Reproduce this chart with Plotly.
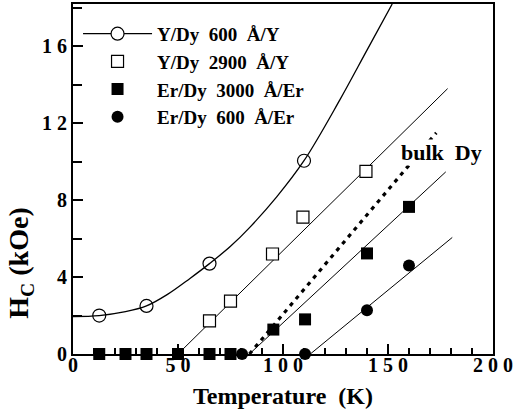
import plotly.graph_objects as go

# ---- data ----
# Y/Dy 600 Å/Y (open circles)
t_y600 = [12.5, 35, 65, 110]
h_y600 = [2.0, 2.5, 4.7, 10.05]
# fitted curve through Y/Dy 600
t_y600_fit = [0, 12.5, 25, 35, 45, 55.7, 65, 75, 84.3, 97, 110, 127, 140, 152]
h_y600_fit = [1.95, 2.0, 2.2, 2.5, 3.1, 3.93, 4.7, 5.6, 6.6, 8.17, 10.05, 13.2, 15.8, 18.2]

# Y/Dy 2900 Å/Y (open squares)
t_y2900 = [65, 75, 95, 109.5, 139.5]
h_y2900 = [1.72, 2.75, 5.2, 7.12, 9.5]
t_y2900_fit = [50, 178.4]
h_y2900_fit = [0, 13.8]

# Er/Dy 3000 Å/Er (filled squares)
t_er3000 = [12.5, 25, 35, 50, 65, 75, 95.4, 110.5, 140, 160]
h_er3000 = [0, 0, 0, 0, 0, 0, 1.27, 1.8, 5.23, 7.65]
t_er3000_fit = [84, 177.5]
h_er3000_fit = [0, 9.47]

# Er/Dy 600 Å/Er (filled circles)
t_er600 = [80.5, 110.5, 140, 160]
h_er600 = [0, 0, 2.27, 4.6]
t_er600_fit = [113, 180.6]
h_er600_fit = [0, 6.06]

# bulk Dy (dotted)
t_bulk = [84, 173]
h_bulk = [0, 11.5]

x_tickvals = [0, 50, 100, 150, 200]
x_ticktext = ["0", "5\u00a00", "1\u00a00\u00a00", "1\u00a05\u00a00", "2\u00a00\u00a00"]
y_tickvals = [0, 4, 8, 12, 16]
y_ticktext = ["0", "4", "8", "1\u00a02", "1\u00a06"]

names = ["Y/Dy\u00a0\u00a0600\u00a0\u00a0Å/Y",
         "Y/Dy\u00a0\u00a02900\u00a0\u00a0Å/Y",
         "Er/Dy\u00a0\u00a03000\u00a0\u00a0Å/Er",
         "Er/Dy\u00a0\u00a0600\u00a0\u00a0Å/Er"]

FONT = "Liberation Serif"
fig = go.Figure()

thin = dict(color="black", width=1)
# fit lines
fig.add_trace(go.Scatter(x=t_y600_fit, y=h_y600_fit, mode="lines", line=dict(color="black", width=1.3, shape="spline"),
                         showlegend=False, cliponaxis=False, hoverinfo="skip"))
fig.add_trace(go.Scatter(x=t_y2900_fit, y=h_y2900_fit, mode="lines", line=thin, showlegend=False, hoverinfo="skip"))
fig.add_trace(go.Scatter(x=t_er3000_fit, y=h_er3000_fit, mode="lines", line=thin, showlegend=False, hoverinfo="skip"))
fig.add_trace(go.Scatter(x=t_er600_fit, y=h_er600_fit, mode="lines", line=thin, showlegend=False, hoverinfo="skip"))
fig.add_trace(go.Scatter(x=t_bulk, y=h_bulk, mode="lines", line=dict(color="black", width=3.2, dash="4px,5px"),
                         showlegend=False, hoverinfo="skip"))

# data markers
fig.add_trace(go.Scatter(x=t_y600, y=h_y600, mode="markers", name=names[0], showlegend=False, cliponaxis=False,
                         marker=dict(symbol="circle-open", size=13, color="black", line=dict(width=1.2))))
fig.add_trace(go.Scatter(x=t_y2900, y=h_y2900, mode="markers", name=names[1], showlegend=False, cliponaxis=False,
                         marker=dict(symbol="square", size=12, color="white", line=dict(width=1.2, color="black"))))
fig.add_trace(go.Scatter(x=t_er3000, y=h_er3000, mode="markers", name=names[2], showlegend=False, cliponaxis=False,
                         marker=dict(symbol="square", size=12, color="black")))
fig.add_trace(go.Scatter(x=t_er600, y=h_er600, mode="markers", name=names[3], showlegend=False, cliponaxis=False,
                         marker=dict(symbol="circle", size=12, color="black")))

# legend entries
fig.add_trace(go.Scatter(x=[None], y=[None], mode="lines+markers", name=names[0],
                         line=dict(color="black", width=1.2),
                         marker=dict(symbol="circle", size=13, color="white", line=dict(width=1.2, color="black"))))
fig.add_trace(go.Scatter(x=[None], y=[None], mode="markers", name=names[1],
                         marker=dict(symbol="square", size=12, color="white", line=dict(width=1.2, color="black"))))
fig.add_trace(go.Scatter(x=[None], y=[None], mode="markers", name=names[2],
                         marker=dict(symbol="square", size=12, color="black")))
fig.add_trace(go.Scatter(x=[None], y=[None], mode="markers", name=names[3],
                         marker=dict(symbol="circle", size=12, color="black")))

axis_common = dict(showline=True, linecolor="black", linewidth=2, mirror=True, ticks="inside",
                   tickcolor="black", tickwidth=2, showgrid=False, zeroline=False, automargin=False,
                   tickfont=dict(family=FONT, size=20, color="black", weight="bold"))

fig.update_xaxes(range=[0, 200], tickvals=x_tickvals, ticktext=x_ticktext, ticklen=10, ticklabelstandoff=-8,
                 minor=dict(dtick=10, ticks="inside", ticklen=6, tickcolor="black", tickwidth=2, showgrid=False),
                 title=dict(text="Temperature\u00a0\u00a0(K)", font=dict(family=FONT, size=24, color="black", weight="bold"),
                            standoff=12),
                 **axis_common)
fig.update_yaxes(range=[0, 18.2], tickvals=y_tickvals, ticktext=y_ticktext, ticklen=10,
                 minor=dict(dtick=2, ticks="inside", ticklen=9, tickcolor="black", tickwidth=2, showgrid=False),
                 **axis_common)

fig.add_annotation(text="H<sub>C</sub>\u00a0(kOe)", xref="paper", yref="paper", x=-0.127, y=0.26,
                   textangle=-90, showarrow=False, xanchor="center", yanchor="middle",
                   font=dict(family=FONT, size=28, color="black", weight="bold"))
fig.add_annotation(text="bulk\u00a0\u00a0Dy", xref="x", yref="y", x=155.5, y=10.5, showarrow=False,
                   xanchor="left", yanchor="middle", bgcolor="white", borderpad=0,
                   font=dict(family=FONT, size=22, color="black", weight="bold"))

fig.update_layout(
    width=515, height=415,
    margin=dict(l=73, r=22, t=4, b=61),
    paper_bgcolor="white", plot_bgcolor="white",
    showlegend=True,
    legend=dict(x=0.012, y=0.969, xanchor="left", yanchor="top", bgcolor="rgba(0,0,0,0)",
                itemwidth=69, tracegroupgap=0,
                font=dict(family=FONT, size=19, color="black", weight="bold")),
)

fig.write_html("out.html", config={"displayModeBar": False},
               post_script="document.body.style.margin='0px';")
